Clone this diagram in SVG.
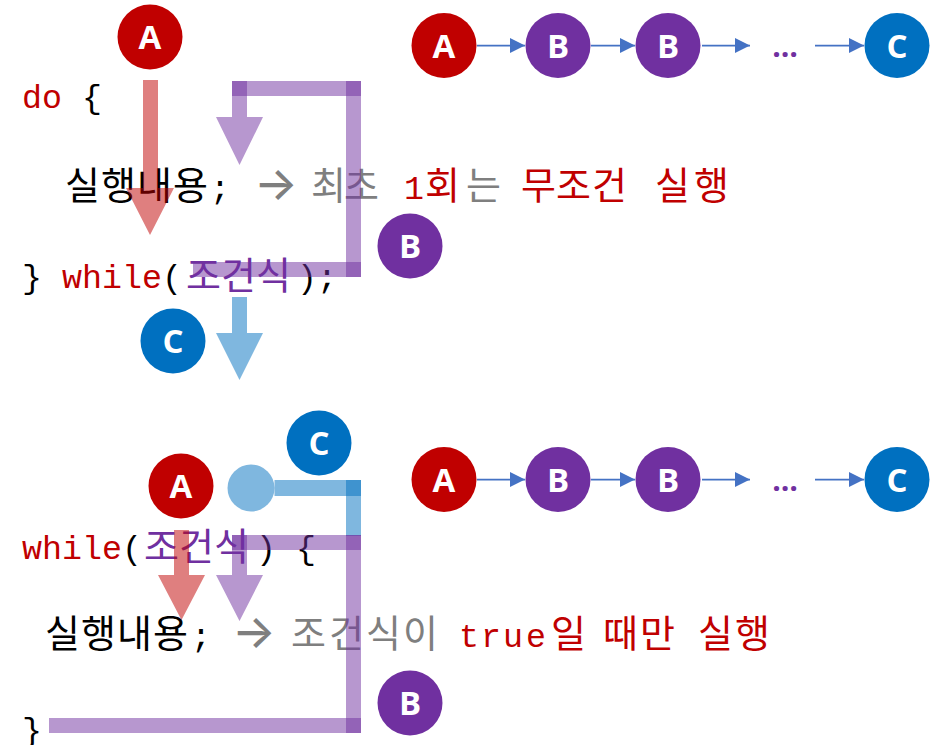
<svg xmlns="http://www.w3.org/2000/svg" width="937" height="745" viewBox="0 0 937 745">
<defs>
<style>
.mono{font-family:"Liberation Mono","DejaVu Sans Mono",monospace;font-size:33.3px}
.kr{font-family:"Noto Sans CJK KR","Noto Sans",sans-serif;font-size:38px}
.arr{font-family:Inter,"DejaVu Sans",sans-serif;font-size:46px;font-weight:500;fill:#7F7F7F}
.red{fill:#C00000}.blk{fill:#000}.gry{fill:#7F7F7F}.pur{fill:#7030A0}
.lbl{font-family:"Open Sans","Liberation Sans",sans-serif;font-weight:bold;font-size:33px;fill:#fff;text-anchor:middle}
.pa{fill:#7030A0;fill-opacity:.5}.ra{fill:#C00000;fill-opacity:.5}.ba{fill:#0070C0;fill-opacity:.5}
.link{stroke:#4472C4;stroke-width:1.75;fill:none}
.cA{fill:#C00000}.cB{fill:#7030A0}.cC{fill:#0070C0}
.dots{font-family:"Open Sans","Liberation Sans",sans-serif;font-weight:bold;font-size:30px;fill:#7030A0;text-anchor:middle}
</style>
<marker id="ah" viewBox="0 0 15 15" refX="15" refY="7.5" markerWidth="15" markerHeight="15" markerUnits="userSpaceOnUse" orient="auto">
<path d="M0,0 L15,7.5 L0,15 z" fill="#4472C4"/>
</marker>
</defs>

<!-- code text: do-while -->
<g id="code-dowhile">
<text class="mono" x="22" y="108"><tspan class="red">do</tspan><tspan class="blk"> {</tspan></text>
<text class="kr blk" x="65 101 137 173" y="199">실행내용</text>
<text class="mono blk" x="210" y="199">;</text>
<text class="arr" x="254" y="200">→</text>
<text class="kr gry" x="311 344" y="199">최초</text>
<text class="mono red" x="404" y="199">1</text>
<text class="kr red" x="425" y="199">회</text>
<text class="kr gry" x="466" y="199">는</text>
<text class="kr red" x="521 556 592" y="199">무조건</text>
<text class="kr red" x="655 694" y="199">실행</text>
<text class="mono" x="22" y="288"><tspan class="blk">} </tspan><tspan class="red">while</tspan><tspan class="blk">(</tspan></text>
<text class="kr pur" x="186 221 256" y="289">조건식</text>
<text class="mono blk" x="297" y="288">);</text>
</g>

<!-- code text: while -->
<g id="code-while">
<text class="mono" x="22" y="559"><tspan class="red">while</tspan><tspan class="blk">(</tspan></text>
<text class="kr pur" x="144 179 214" y="560">조건식</text>
<text class="mono blk" x="256" y="559">) {</text>
<text class="kr blk" x="45 81 117 153" y="647">실행내용</text>
<text class="mono blk" x="191" y="647">;</text>
<text class="arr" x="232" y="648">→</text>
<text class="kr gry" x="291 329 366 403" y="647">조건식이</text>
<text class="mono red" x="459 481 503 526" y="647">true</text>
<text class="kr red" x="551" y="647">일</text>
<text class="kr red" x="603 640" y="647">때만</text>
<text class="kr red" x="698 735" y="647">실행</text>
<text class="mono blk" x="22" y="741">}</text>
</g>

<!-- flow connectors -->
<g id="connectors">
<!-- top: A red arrow -->
<path class="ra" d="M143,80 H158 V188 H174 L150,235 L126,188 H143 Z"/>
<!-- top: B purple loop -->
<rect class="pa" x="232" y="81" width="129" height="15"/>
<rect class="pa" x="346" y="81" width="15" height="196"/>
<rect class="pa" x="193" y="262" width="168" height="15"/>
<path class="pa" d="M232,81 H247 V117 H263 L239.5,165 L216,117 H232 Z"/>
<!-- top: C blue arrow -->
<path class="ba" d="M232,297 H247 V333 H263 L239.5,380 L216,333 H232 Z"/>

<!-- bottom: C blue -->
<circle class="ba" cx="251" cy="488" r="23.5"/>
<rect class="ba" x="274.5" y="480" width="86.5" height="16"/>
<rect class="ba" x="346" y="480" width="15" height="56"/>
<!-- bottom: B purple -->
<rect class="pa" x="232" y="535" width="129" height="15"/>
<path class="pa" d="M232,535 H247 V575 H263 L239.5,621 L216,575 H232 Z"/>
<rect class="pa" x="346" y="535" width="15" height="198"/>
<rect class="pa" x="49" y="718" width="312" height="15"/>
<!-- bottom: A red -->
<path class="ra" d="M174,530 H189 V575 H205 L181.5,620 L158,575 H174 Z"/>

<!-- chain links top -->
<line class="link" x1="477" y1="45.5" x2="525" y2="45.5" marker-end="url(#ah)"/>
<line class="link" x1="591" y1="45.5" x2="635" y2="45.5" marker-end="url(#ah)"/>
<line class="link" x1="702" y1="45.5" x2="750" y2="45.5" marker-end="url(#ah)"/>
<line class="link" x1="815" y1="45.5" x2="864" y2="45.5" marker-end="url(#ah)"/>
<!-- chain links bottom -->
<line class="link" x1="477" y1="479.5" x2="525" y2="479.5" marker-end="url(#ah)"/>
<line class="link" x1="591" y1="479.5" x2="635" y2="479.5" marker-end="url(#ah)"/>
<line class="link" x1="702" y1="479.5" x2="750" y2="479.5" marker-end="url(#ah)"/>
<line class="link" x1="815" y1="479.5" x2="864" y2="479.5" marker-end="url(#ah)"/>
</g>

<!-- badges -->
<g id="badge-top-A"><circle class="cA" cx="150" cy="37" r="32.5"/><text class="lbl" x="150" y="49">A</text></g>
<g id="badge-top-B"><circle class="cB" cx="410" cy="246" r="32.5"/><text class="lbl" x="410" y="258">B</text></g>
<g id="badge-top-C"><circle class="cC" cx="173" cy="341" r="32.5"/><text class="lbl" x="173" y="353">C</text></g>
<g id="badge-bot-C"><circle class="cC" cx="319" cy="443" r="32.5"/><text class="lbl" x="319" y="455">C</text></g>
<g id="badge-bot-A"><circle class="cA" cx="181" cy="486" r="32.5"/><text class="lbl" x="181" y="498">A</text></g>
<g id="badge-bot-B"><circle class="cB" cx="410" cy="703" r="32.5"/><text class="lbl" x="410" y="715">B</text></g>

<!-- chain nodes top -->
<g id="chain1-A"><circle class="cA" cx="444" cy="45.5" r="32.5"/><text class="lbl" x="444" y="57.5">A</text></g>
<g id="chain1-B1"><circle class="cB" cx="558" cy="45.5" r="32.5"/><text class="lbl" x="558" y="57.5">B</text></g>
<g id="chain1-B2"><circle class="cB" cx="668" cy="45.5" r="32.5"/><text class="lbl" x="668" y="57.5">B</text></g>
<g id="chain1-dots"><text class="dots" x="785" y="57">…</text></g>
<g id="chain1-C"><circle class="cC" cx="897" cy="45.5" r="32.5"/><text class="lbl" x="897" y="57.5">C</text></g>

<!-- chain nodes bottom -->
<g id="chain2-A"><circle class="cA" cx="444" cy="479.5" r="32.5"/><text class="lbl" x="444" y="491.5">A</text></g>
<g id="chain2-B1"><circle class="cB" cx="558" cy="479.5" r="32.5"/><text class="lbl" x="558" y="491.5">B</text></g>
<g id="chain2-B2"><circle class="cB" cx="668" cy="479.5" r="32.5"/><text class="lbl" x="668" y="491.5">B</text></g>
<g id="chain2-dots"><text class="dots" x="785" y="491">…</text></g>
<g id="chain2-C"><circle class="cC" cx="897" cy="479.5" r="32.5"/><text class="lbl" x="897" y="491.5">C</text></g>
</svg>
